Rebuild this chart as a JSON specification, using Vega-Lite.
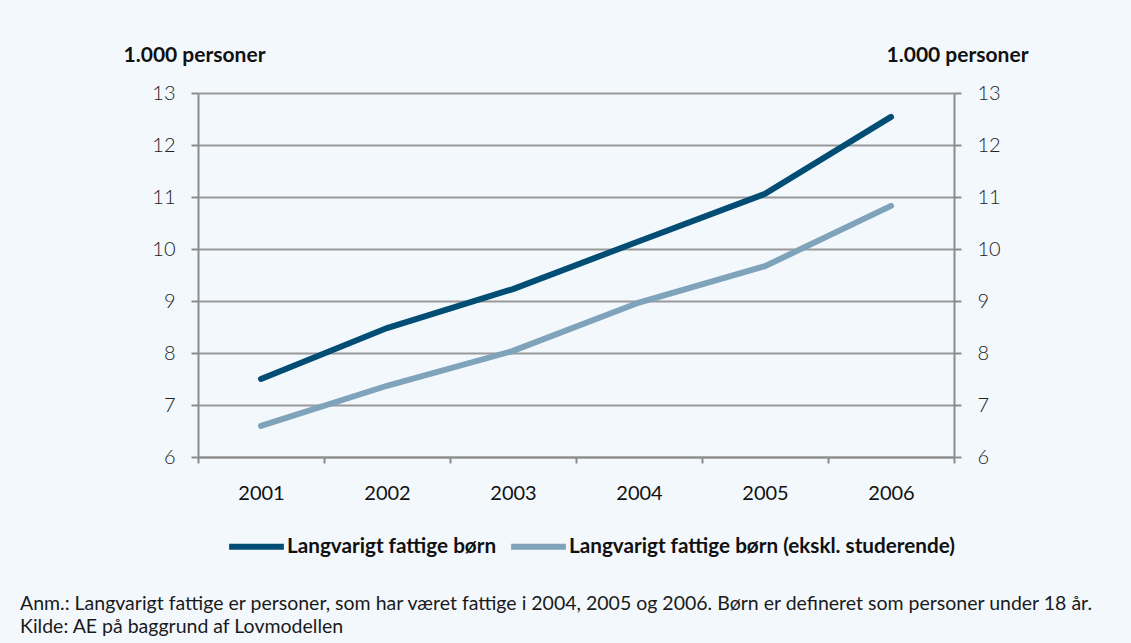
{
  "$schema": "https://vega.github.io/schema/vega-lite/v6.json",
  "width": 756,
  "height": 364,
  "autosize": {"type": "none"},
  "padding": {"left": 198, "top": 93, "right": 177, "bottom": 186},
  "background": "#f3f8fd",
  "config": {"view": {"stroke": null}, "font": "Lato"},
  "title": {
    "text": ["Anm.: Langvarigt fattige er personer, som har været fattige i 2004, 2005 og 2006. Børn er defineret som personer under 18 år.", "Kilde: AE på baggrund af Lovmodellen"],
    "orient": "bottom",
    "anchor": "start",
    "frame": "group",
    "dx": -178,
    "offset": 36,
    "font": "Lato",
    "fontSize": 19.5,
    "fontWeight": "normal",
    "color": "#1a1a1a",
    "lineHeight": 23
  },
  "data": {
    "values": [
      {"year": "2001", "series": "Langvarigt fattige børn", "value": 7.5},
      {"year": "2002", "series": "Langvarigt fattige børn", "value": 8.48},
      {"year": "2003", "series": "Langvarigt fattige børn", "value": 9.23},
      {"year": "2004", "series": "Langvarigt fattige børn", "value": 10.15},
      {"year": "2005", "series": "Langvarigt fattige børn", "value": 11.06},
      {"year": "2006", "series": "Langvarigt fattige børn", "value": 12.54},
      {"year": "2001", "series": "Langvarigt fattige børn (ekskl. studerende)", "value": 6.6},
      {"year": "2002", "series": "Langvarigt fattige børn (ekskl. studerende)", "value": 7.37},
      {"year": "2003", "series": "Langvarigt fattige børn (ekskl. studerende)", "value": 8.04},
      {"year": "2004", "series": "Langvarigt fattige børn (ekskl. studerende)", "value": 8.97},
      {"year": "2005", "series": "Langvarigt fattige børn (ekskl. studerende)", "value": 9.67},
      {"year": "2006", "series": "Langvarigt fattige børn (ekskl. studerende)", "value": 10.83}
    ]
  },
  "encoding": {
    "x": {
      "field": "year",
      "type": "ordinal",
      "bandPosition": 0.5,
      "scale": {"type": "band", "paddingInner": 0, "paddingOuter": 0},
      "axis": {
        "title": null,
        "labelAngle": 0,
        "labelFontSize": 20,
        "labelColor": "#111111",
        "labelPadding": 20,
        "tickBand": "extent",
        "tickSize": 6,
        "tickWidth": 2,
        "tickColor": "#8c8c8c",
        "domainColor": "#8c8c8c",
        "domainWidth": 2
      }
    },
    "color": {
      "field": "series",
      "type": "nominal",
      "scale": {
        "domain": ["Langvarigt fattige børn", "Langvarigt fattige børn (ekskl. studerende)"],
        "range": ["#024d74", "#7fa3ba"]
      },
      "legend": {
        "title": null,
        "orient": "none",
        "legendX": 28,
        "legendY": 423,
        "direction": "horizontal",
        "symbolType": "stroke",
        "symbolSize": 3000,
        "symbolStrokeWidth": 6,
        "labelFontSize": 20.7,
        "labelFontWeight": "bold",
        "labelColor": "#111111",
        "labelOffset": 0,
        "labelLimit": 0,
        "columnPadding": 2
      }
    }
  },
  "layer": [
    {
      "transform": [{"filter": "datum.series === 'Langvarigt fattige børn'"}],
      "mark": {"type": "line", "strokeWidth": 6, "strokeCap": "round"},
      "encoding": {
        "y": {
          "field": "value",
          "type": "quantitative",
          "scale": {"domain": [6, 13], "nice": false, "zero": false},
          "axis": {
            "orient": "left",
            "values": [6, 7, 8, 9, 10, 11, 12, 13],
            "title": "1.000 personer",
            "titleAngle": 0,
            "titleX": -4,
            "titleY": -32,
            "titleAlign": "center",
            "titleBaseline": "alphabetic",
            "titleFontSize": 21,
            "titleFontWeight": "bold",
            "titleColor": "#111111",
            "labelFontSize": 20,
            "labelFontWeight": 300,
            "labelColor": "#222222",
            "labelPadding": 16,
            "tickSize": 7,
            "tickWidth": 2,
            "tickColor": "#8c8c8c",
            "domainColor": "#8c8c8c",
            "domainWidth": 2,
            "grid": true,
            "gridColor": "#999999",
            "gridWidth": 2
          }
        }
      }
    },
    {
      "transform": [{"filter": "datum.series === 'Langvarigt fattige børn (ekskl. studerende)'"}],
      "mark": {"type": "line", "strokeWidth": 6, "strokeCap": "round"},
      "encoding": {
        "y": {
          "field": "value",
          "type": "quantitative",
          "scale": {"domain": [6, 13], "nice": false, "zero": false},
          "axis": {
            "orient": "right",
            "values": [6, 7, 8, 9, 10, 11, 12, 13],
            "title": "1.000 personer",
            "titleAngle": 0,
            "titleX": 3,
            "titleY": -32,
            "titleAlign": "center",
            "titleBaseline": "alphabetic",
            "titleFontSize": 21,
            "titleFontWeight": "bold",
            "titleColor": "#111111",
            "labelFontSize": 20,
            "labelFontWeight": 300,
            "labelColor": "#222222",
            "labelPadding": 16,
            "tickSize": 7,
            "tickWidth": 2,
            "tickColor": "#8c8c8c",
            "domainColor": "#8c8c8c",
            "domainWidth": 2,
            "grid": false
          }
        }
      }
    }
  ],
  "resolve": {"axis": {"y": "independent"}}
}
